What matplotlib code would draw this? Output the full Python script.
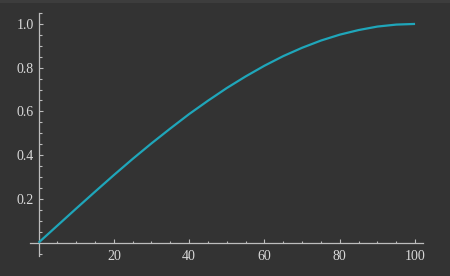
import matplotlib
matplotlib.use("Agg")
import matplotlib.pyplot as plt
from matplotlib.patches import Rectangle
from matplotlib.ticker import FixedLocator

# Values
x_vals = [0, 5, 10, 15, 20, 25, 30, 35, 40, 45, 50, 55, 60, 65, 70, 75, 80, 85, 90, 95, 100]
y_vals = [0.0, 0.078, 0.156, 0.233, 0.309, 0.383, 0.454, 0.522, 0.588, 0.649, 0.707,
          0.760, 0.809, 0.853, 0.891, 0.924, 0.951, 0.972, 0.988, 0.997, 1.0]

x_major = [20, 40, 60, 80, 100]
x_labels = ["20", "40", "60", "80", "100"]
y_major = [0.2, 0.4, 0.6, 0.8, 1.0]
y_labels = ["0.2", "0.4", "0.6", "0.8", "1.0"]
x_minor = [5, 10, 15, 25, 30, 35, 45, 50, 55, 65, 70, 75, 85, 90, 95]
y_minor = [-0.05, 0.05, 0.1, 0.15, 0.25, 0.3, 0.35, 0.45, 0.5, 0.55, 0.65, 0.7, 0.75,
           0.85, 0.9, 0.95, 1.05]

bg = "#333333"
axis_col = "#bdbdbd"
text_col = "#d9d9d9"
line_col = "#1fa6ba"

fig = plt.figure(figsize=(4.5, 2.76), dpi=100, facecolor=bg)
fig.patches.append(Rectangle((0, 1 - 3 / 276), 1, 3 / 276, transform=fig.transFigure,
                             facecolor="#3d3d3d", edgecolor="none"))
ax = fig.add_axes([0.0664, 0.0732, 0.8727, 0.8797])
ax.set_facecolor(bg)
ax.patch.set_alpha(0)

ax.plot(x_vals, y_vals, color=line_col, lw=1.6, solid_capstyle="butt", zorder=3)

ax.set_xlim(-2.3, 102)
ax.set_ylim(-0.06, 1.05)

for s in ["top", "right"]:
    ax.spines[s].set_visible(False)
ax.spines["left"].set_position(("data", 0))
ax.spines["bottom"].set_position(("data", 0))
for s in ["left", "bottom"]:
    ax.spines[s].set_color(axis_col)
    ax.spines[s].set_linewidth(0.9)

ax.set_xticks(x_major)
ax.set_xticklabels(x_labels)
ax.set_yticks(y_major)
ax.set_yticklabels(y_labels)
ax.xaxis.set_minor_locator(FixedLocator(x_minor))
ax.yaxis.set_minor_locator(FixedLocator(y_minor))

ax.tick_params(which="both", direction="in", color=axis_col, width=0.8)
ax.tick_params(which="major", length=3.2)
ax.tick_params(which="minor", length=1.8)
ax.tick_params(axis="x", which="major", pad=5)
ax.tick_params(axis="y", which="major", pad=3.5)

for lab in ax.get_xticklabels() + ax.get_yticklabels():
    lab.set_fontfamily("Liberation Serif")
    lab.set_fontsize(10)
    lab.set_color(text_col)

fig.savefig("out.png", dpi=100, facecolor=bg)
